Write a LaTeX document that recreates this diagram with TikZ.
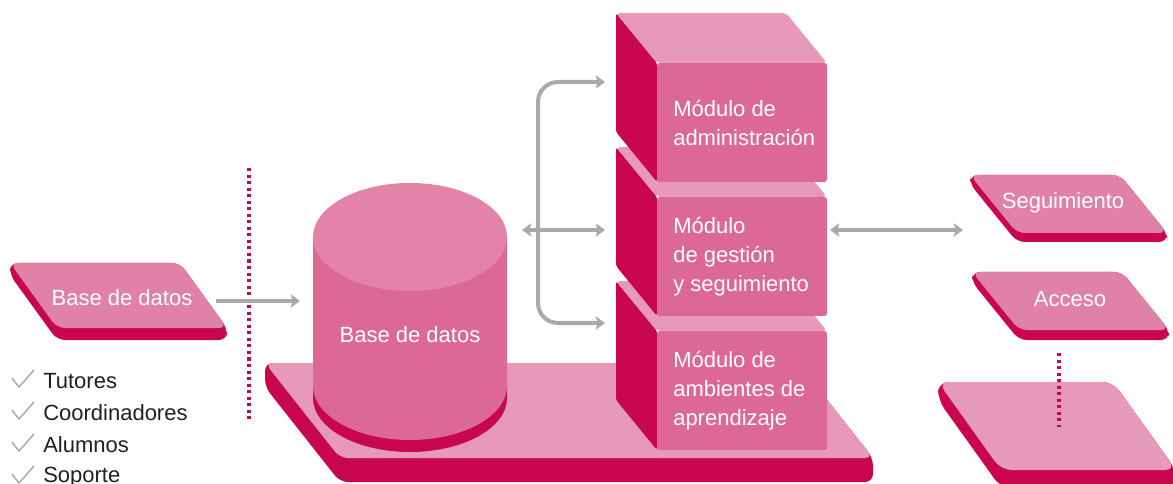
\documentclass[tikz,border=0pt]{standalone}
\usepackage{fontspec}
\setmainfont{Liberation Sans}
\usetikzlibrary{arrows.meta}
\definecolor{pkdark}{HTML}{C8074F}
\definecolor{pkfront}{HTML}{DC6894}
\definecolor{pktop}{HTML}{E79AB7}
\definecolor{pkslab}{HTML}{E082A6}
\definecolor{cyltop}{HTML}{E283A7}
\definecolor{arrgray}{HTML}{A7A9AC}
\definecolor{txtdark}{HTML}{231F20}
\newcommand\labfont{\fontsize{16.5}{21.75}\selectfont}
\newcommand\slab[8]{%
  \fill[pkdark, rounded corners=#8] (#1,#2) -- (#1,{#2+#6}) -- ({#1+#4},{#2+#5+#6}) -- ({#1+#3+#4},{#2+#5+#6}) -- ({#1+#3+#4},{#2+#5}) -- ({#1+#3},#2) -- cycle;
  \fill[#7, rounded corners=#8] (#1,#2) -- ({#1+#3},#2) -- ({#1+#3+#4},{#2+#5}) -- ({#1+#4},{#2+#5}) -- cycle;}
\newcommand\modcube[1]{%
  \fill[pkdark, rounded corners=2pt] (616,#1) -- (657,{#1+50}) -- (657,{#1+169}) -- (616,{#1+119}) -- cycle;
  \fill[pkfront, rounded corners=2pt] (657,{#1+50}) -- (827,{#1+50}) -- (827,{#1+169}) -- (657,{#1+169}) -- cycle;
  \fill[pktop, rounded corners=3pt] (616,#1) -- (786,#1) -- (827,{#1+50}) -- (657,{#1+50}) -- cycle;}
\tikzset{
  lbl/.style={text=white, font=\labfont, inner sep=0pt},
  mod/.style={lbl, align=left, anchor=west},
  item/.style={text=txtdark, font=\labfont, inner sep=0pt, anchor=west},
  garrow/.style={draw=arrgray, line width=3pt, -{Stealth[length=7pt,width=10pt,inset=1.5pt]}},
  gboth/.style={draw=arrgray, line width=3pt, {Stealth[length=7pt,width=10pt,inset=1.5pt]}-{Stealth[length=7pt,width=10pt,inset=1.5pt]}},
  dots/.style={draw=pkdark, line width=2.3pt, dash pattern=on 2.3pt off 2.6pt},
  tick/.style={draw=arrgray, line width=1.1pt, line join=round}
}
\begin{document}
\begin{tikzpicture}[x=0.75pt,y=-0.75pt]
\useasboundingbox (0,0) rectangle (1173,484);
\clip (0,0) rectangle (1173,484);
% platform
\slab{265}{363}{533}{75}{95}{24}{pktop}{6pt}
% cylinder
\fill[pkdark] (313,386) -- (313,398) arc[start angle=180,end angle=360,x radius=72.75pt,y radius=40.5pt] -- (507,386) -- cycle;
\fill[pkfront] (313,237) -- (313,386) arc[start angle=180,end angle=360,x radius=72.75pt,y radius=40.5pt] -- (507,237) -- cycle;
\fill[cyltop] (410,237) ellipse[x radius=72.75pt,y radius=40.5pt];
\node[lbl] (cyl) at (410,335) {Base de datos};
% cubes
\modcube{281}
\modcube{147}
\modcube{13}
\node[mod] (m1) at (673,123) {Módulo de\\administración};
\node[mod] (m2) at (673,256.5) {Módulo\\de gestión\\y seguimiento};
\node[mod] (m3) at (673,390.5) {Módulo de\\ambientes de\\aprendizaje};
% left slab
\slab{10}{263}{170}{47}{65}{12}{pkslab}{6pt}
\node[lbl] (src) at (122,298) {Base de datos};
% right slabs
\slab{970}{175}{150}{47}{58}{9}{pkslab}{6pt}
\node[lbl] (seg) at (1063,203) {Seguimiento};
\slab{972}{272}{150}{47}{58}{10}{pkslab}{6pt}
\node[lbl] (acc) at (1070,299) {Acceso};
\slab{938}{382}{175}{63}{88}{18}{pktop}{8pt}
% checklist
\foreach \i/\t in {0/Tutores,1/Coordinadores,2/Alumnos,3/Soporte}{
  \draw[tick] (12,{378+32*\i}) -- (19,{387+32*\i}) -- (34,{370+32*\i});
  \node[item] (it\i) at (43,{381+32*\i}) {\t};
}
% dotted separators
\coordinate (d1a) at (249,168); \coordinate (d1b) at (249,420);
\draw[dots] (d1a) -- (d1b);
\coordinate (d2a) at (1059,353); \coordinate (d2b) at (1059,427);
\draw[dots] (d2a) -- (d2b);
% arrows
\coordinate (a1s) at (216,301); \coordinate (a1e) at (300,301);
\draw[garrow] (a1s) -- (a1e);
\coordinate (br) at (538,230);
\coordinate (t1) at (605,82); \coordinate (t2) at (605,323);
\coordinate (t0) at (522,230); \coordinate (t3) at (605,230);
\draw[garrow, rounded corners=15pt] (br) |- (t1);
\draw[garrow, rounded corners=15pt] (br) |- (t2);
\draw[gboth] (t0) -- (t3);
\coordinate (r0) at (830,230); \coordinate (r1) at (963,230);
\draw[gboth] (r0) -- (r1);
\end{tikzpicture}
\end{document}
